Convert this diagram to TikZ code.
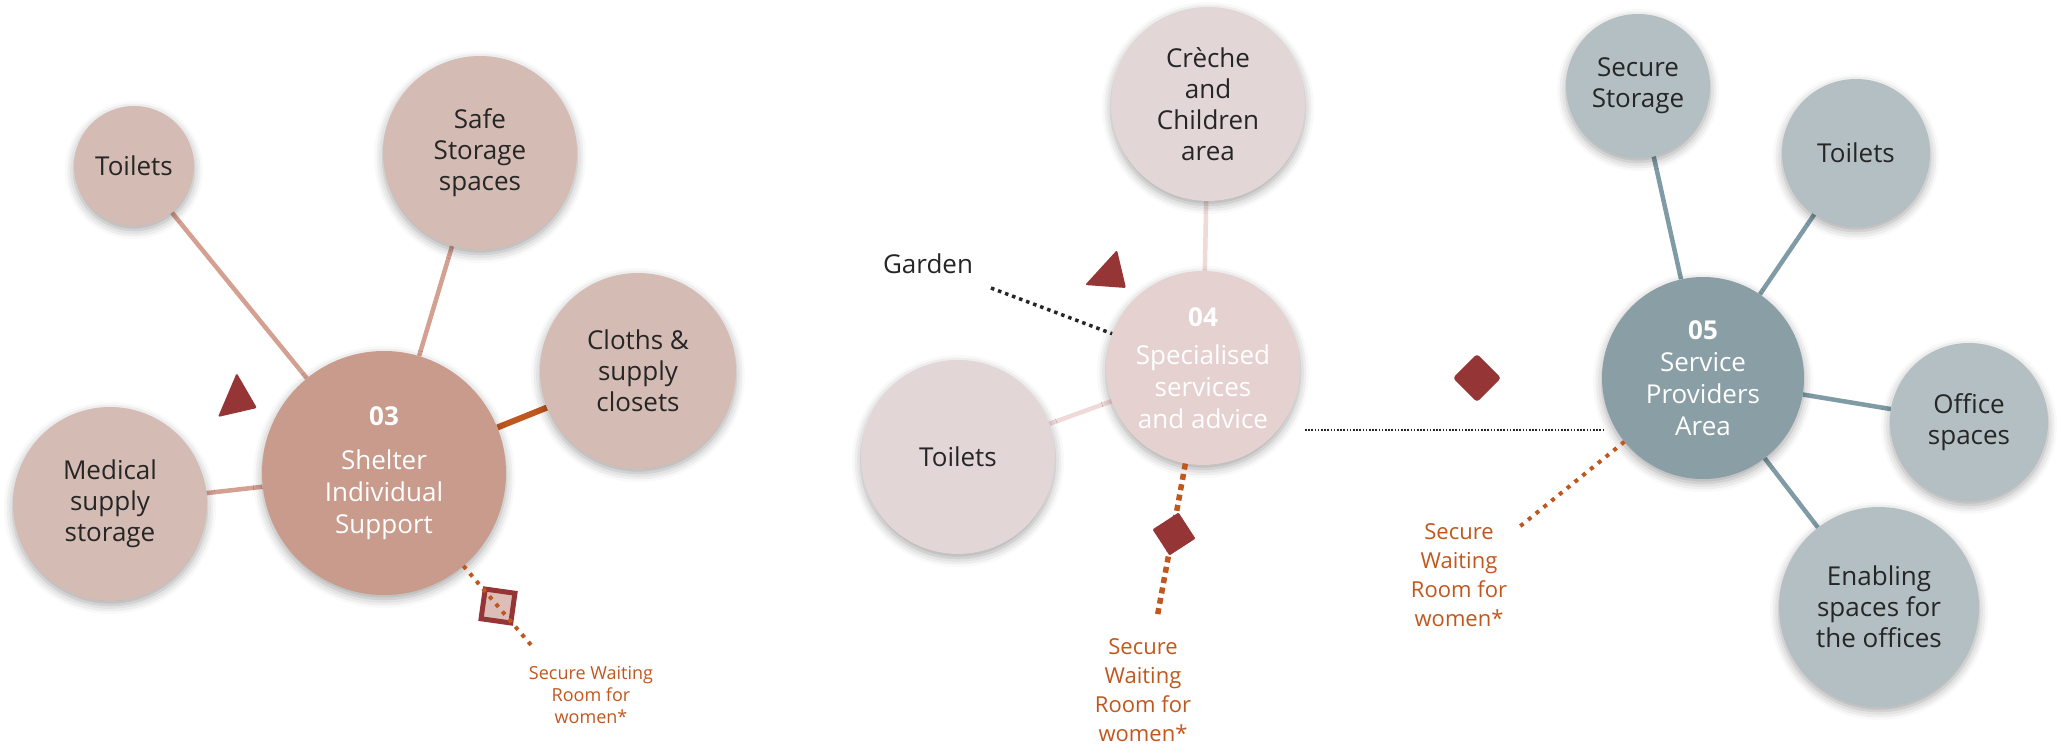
\documentclass[tikz,border=0pt]{standalone}
\usepackage{fontspec}
\setmainfont{Open Sans}
\usetikzlibrary{shadows.blur}

\definecolor{inkdark}{HTML}{262626}
\definecolor{rustorange}{HTML}{C0571E}
\definecolor{wine}{HTML}{963535}
% left cluster
\definecolor{roseSat}{HTML}{D4BCB4}
\definecolor{roseHub}{HTML}{C89B8C}
\definecolor{roseLink}{HTML}{D4A091}
% middle cluster
\definecolor{blushSat}{HTML}{E2D6D6}
\definecolor{blushHub}{HTML}{E6D1D1}
\definecolor{blushLink}{HTML}{F0D9D9}
% right cluster
\definecolor{slateSat}{HTML}{B3BFC2}
\definecolor{slateHub}{HTML}{8A9EA5}
\definecolor{slateLink}{HTML}{7F9BA5}
\definecolor{squareFill}{HTML}{DDBDB8}

\pgfdeclarelayer{links}
\pgfsetlayers{links,main}

\begin{document}
\begin{tikzpicture}[x=1pt,y=-1pt,
  bubble/.style={circle, inner sep=0pt, align=center, text=inkdark,
    font=\fontsize{26}{31}\selectfont,
    blur shadow={shadow xshift=0pt, shadow yshift=-4pt,
      shadow blur radius=9pt, shadow opacity=35}},
  hub/.style={bubble, text=white, font=\fontsize{26}{32}\selectfont},
  link/.style={line width=4.5pt},
  note/.style={align=center, text=rustorange, inner sep=0pt},
  wdots/.style={rustorange, line width=4pt, dash pattern=on 4pt off 6pt},
  wdash/.style={rustorange, line width=5.5pt, dash pattern=on 6pt off 4.5pt},
  marker/.style={fill=wine, draw=none},
]
\useasboundingbox (0,0) rectangle (2060,746);

% ---------- 03 Shelter individual support ----------
\node[hub, fill=roseHub, minimum size=244pt] (c03) at (384,473)
  {\textbf{03}\\[12pt]Shelter\\Individual\\Support};
\node[bubble, fill=roseSat, minimum size=120pt] (toiL) at (134,166) {Toilets};
\node[bubble, fill=roseSat, minimum size=194pt] (safe) at (480,153) {Safe\\Storage\\spaces};
\node[bubble, fill=roseSat, minimum size=196pt] (cloth) at (638,371) {Cloths \&\\supply\\closets};
\node[bubble, fill=roseSat, minimum size=194pt] (medic) at (110,504) {Medical\\supply\\storage};

\fill[marker, rounded corners=1.5pt] (236.7,373) -- (257,408) -- (218,417) -- cycle;

\node[draw=wine, fill=squareFill, line width=5pt, minimum size=30pt,
  inner sep=0pt, rotate=-8] (sq03) at (498,606) {};
\coordinate (w03end) at (531,645);
\draw[wdots] (c03) -- (w03end);
\node[note, font=\fontsize{18}{22}\selectfont] (w03) at (591,695)
  {Secure Waiting\\Room for\\women*};

% ---------- 04 Specialised services and advice ----------
\node[hub, fill=blushHub, minimum size=194pt] (c04) at (1203,368)
  {\textbf{04}\\[6pt]Specialised\\services\\and advice};
\node[bubble, fill=blushSat, minimum size=194pt] (creche) at (1208,104)
  {Crèche\\and\\Children\\area};
\node[bubble, fill=blushSat, minimum size=194pt] (toiM) at (958,457) {Toilets};

\node[text=inkdark, font=\fontsize{26}{31}\selectfont, inner sep=0pt] (garden) at (928,264) {Garden};
\coordinate (gardenend) at (991,288);
\draw[inkdark, line width=3.5pt, dash pattern=on 3.5pt off 4pt] (gardenend) -- (c04);

\fill[marker, rounded corners=1.5pt] (1117,250) -- (1126,288) -- (1085,285) -- cycle;

\coordinate (w04end) at (1157,618);
\draw[wdash] (c04) -- (w04end);
\node[marker, minimum size=31pt, inner sep=0pt, rotate=33, rounded corners=1pt] (dm04) at (1174,534) {};
\node[note, font=\fontsize{22}{29}\selectfont] (w04) at (1143,690)
  {Secure\\Waiting\\Room for\\women*};

% thin dotted link between the two areas
\coordinate (hlA) at (1305,430);
\coordinate (hlB) at (1604,430);
\draw[inkdark, line width=1.6pt, dash pattern=on 1.6pt off 1.6pt] (hlA) -- (hlB);

\node[marker, minimum size=34pt, inner sep=0pt, rotate=45, rounded corners=3pt] (dm05) at (1477,378) {};

% ---------- 05 Service providers area ----------
\node[hub, fill=slateHub, minimum size=202pt] (c05) at (1703,378)
  {\textbf{05}\\Service\\Providers\\Area};
\node[bubble, fill=slateSat, minimum size=144pt] (secst) at (1638,86) {Secure\\Storage};
\node[bubble, fill=slateSat, minimum size=148pt] (toiR) at (1856,153) {Toilets};
\node[bubble, fill=slateSat, minimum size=158pt] (office) at (1969,422) {Office\\spaces};
\node[bubble, fill=slateSat, minimum size=200pt] (enab) at (1879,607)
  {Enabling\\spaces for\\the offices};

\coordinate (w05end) at (1518,528);
\draw[wdots] (c05) -- (w05end);
\node[note, font=\fontsize{22}{29}\selectfont] (w05) at (1459,575)
  {Secure\\Waiting\\Room for\\women*};

% spokes, kept beneath the bubbles
\begin{pgfonlayer}{links}
  \draw[link, roseLink] (c03) -- (toiL);
  \draw[link, roseLink] (c03) -- (safe);
  \draw[link, roseLink] (c03) -- (medic);
  \draw[link, rustorange, line width=6pt] (c03) -- (cloth);
  \draw[link, blushLink] (c04) -- (creche);
  \draw[link, blushLink] (c04) -- (toiM);
  \draw[link, slateLink] (c05) -- (secst);
  \draw[link, slateLink] (c05) -- (toiR);
  \draw[link, slateLink] (c05) -- (office);
  \draw[link, slateLink] (c05) -- (enab);
\end{pgfonlayer}
\end{tikzpicture}
\end{document}
